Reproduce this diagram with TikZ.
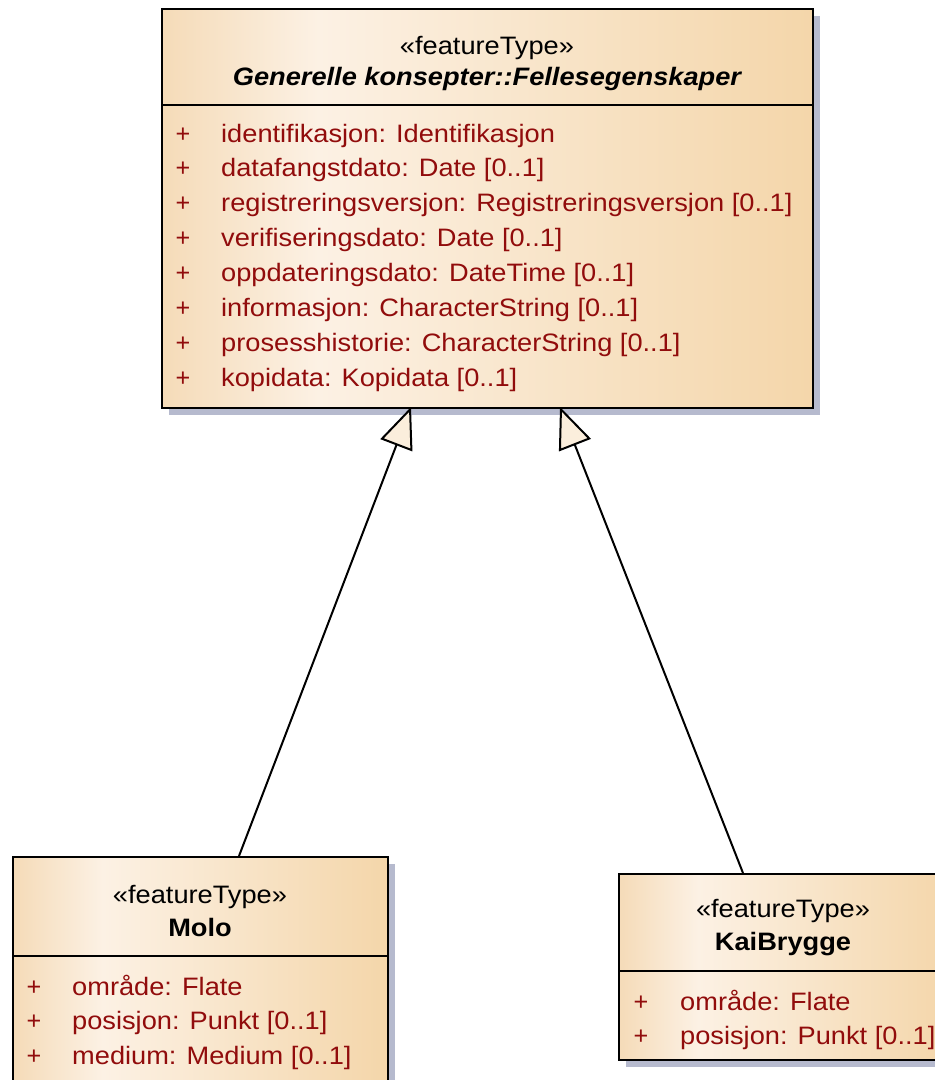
\documentclass[tikz,border=0pt]{standalone}
\usepackage{fontspec}
\setmainfont{Liberation Sans}
\usepackage{graphicx}
\usetikzlibrary{arrows.meta,shadows}

\definecolor{umlTanL}{RGB}{245,219,184}
\definecolor{umlLight}{RGB}{252,241,228}
\definecolor{umlTanR}{RGB}{244,214,170}
\definecolor{umlShadow}{RGB}{182,186,206}
\definecolor{attrRed}{RGB}{145,12,12}
\definecolor{tipFill}{RGB}{251,238,220}

% warm class-box gradient: light band left of centre, tan towards the right
\pgfdeclarehorizontalshading{umlfill}{100bp}{color(0bp)=(umlTanL); color(25bp)=(umlTanL); color(37bp)=(umlLight); color(75bp)=(umlTanR); color(100bp)=(umlTanR)}

\newcommand\umltext[1]{\scalebox{1.08}[1]{#1}}

\tikzset{
  classbox/.style={rectangle, draw=black, line width=2pt, shade, shading=umlfill,
    inner sep=0pt, anchor=north west,
    drop shadow={shadow xshift=7pt, shadow yshift=-7pt, fill=umlShadow, opacity=1}},
  sepline/.style={draw=black, line width=2pt},
  umlfont/.style={font=\fontsize{25.2}{30}\selectfont},
  stereo/.style={umlfont, anchor=base, inner sep=0pt, text=black},
  ctitle/.style={anchor=base, inner sep=0pt, text=black, font=\fontsize{25.2}{30}\selectfont\bfseries},
  atitle/.style={anchor=base, inner sep=0pt, text=black, font=\fontsize{25.2}{30}\selectfont\bfseries\itshape},
  attr/.style={umlfont, anchor=base west, inner sep=0pt, text=attrRed},
  vis/.style={umlfont, anchor=base, inner sep=0pt, text=attrRed},
  genarrow/.style={draw=black, line width=2pt,
    -{Triangle[length=41pt, width=34pt, fill=tipFill]}}
}

\begin{document}
\begin{tikzpicture}[x=1pt, y=-1pt]
\useasboundingbox (0,0) rectangle (935,1080);
\clip (0,0) rectangle (935,1080);

% ---- abstract supertype ----
\node[classbox, minimum width=651pt, minimum height=399pt] (gen) at (161,8) {};
\draw[sepline] (161,105) -- (812,105);
\node[stereo] (genSt) at (487,54) {\umltext{«featureType»}};
\node[atitle] (genNm) at (487,85) {\umltext{Generelle konsepter::Fellesegenskaper}};
\foreach \i/\t in {0/{identifikasjon: Identifikasjon},
                   1/{datafangstdato: Date [0..1]},
                   2/{registreringsversjon: Registreringsversjon [0..1]},
                   3/{verifiseringsdato: Date [0..1]},
                   4/{oppdateringsdato: DateTime [0..1]},
                   5/{informasjon: CharacterString [0..1]},
                   6/{prosesshistorie: CharacterString [0..1]},
                   7/{kopidata: Kopidata [0..1]}}{
  \node[vis] (genV\i) at (183,142+\i*34.9) {+};
  \node[attr] (genA\i) at (221,142+\i*34.9) {\umltext{\t}};
}

% ---- Molo ----
\node[classbox, minimum width=375pt, minimum height=300pt] (molo) at (12,856) {};
\draw[sepline] (12,956) -- (387,956);
\node[stereo] (moloSt) at (200,903) {\umltext{«featureType»}};
\node[ctitle] (moloNm) at (200,936) {\umltext{Molo}};
\foreach \i/\t in {0/{område: Flate},
                   1/{posisjon: Punkt [0..1]},
                   2/{medium: Medium [0..1]}}{
  \node[vis] (moloV\i) at (34,995+\i*34.5) {+};
  \node[attr] (moloA\i) at (72,995+\i*34.5) {\umltext{\t}};
}

% ---- KaiBrygge ----
\node[classbox, minimum width=330pt, minimum height=186pt] (kai) at (618,873) {};
\draw[sepline] (618,971) -- (948,971);
\node[stereo] (kaiSt) at (783,917) {\umltext{«featureType»}};
\node[ctitle] (kaiNm) at (783,950) {\umltext{KaiBrygge}};
\foreach \i/\t in {0/{område: Flate},
                   1/{posisjon: Punkt [0..1]}}{
  \node[vis] (kaiV\i) at (641,1010+\i*34) {+};
  \node[attr] (kaiA\i) at (680,1010+\i*34) {\umltext{\t}};
}

% ---- generalizations ----
\coordinate (genL) at (411,407);
\coordinate (genR) at (560,407);
\coordinate (moloT) at (239,856);
\coordinate (kaiT) at (743,873);
\draw[genarrow] (moloT) -- (genL);
\draw[genarrow] (kaiT) -- (genR);
\end{tikzpicture}
\end{document}
